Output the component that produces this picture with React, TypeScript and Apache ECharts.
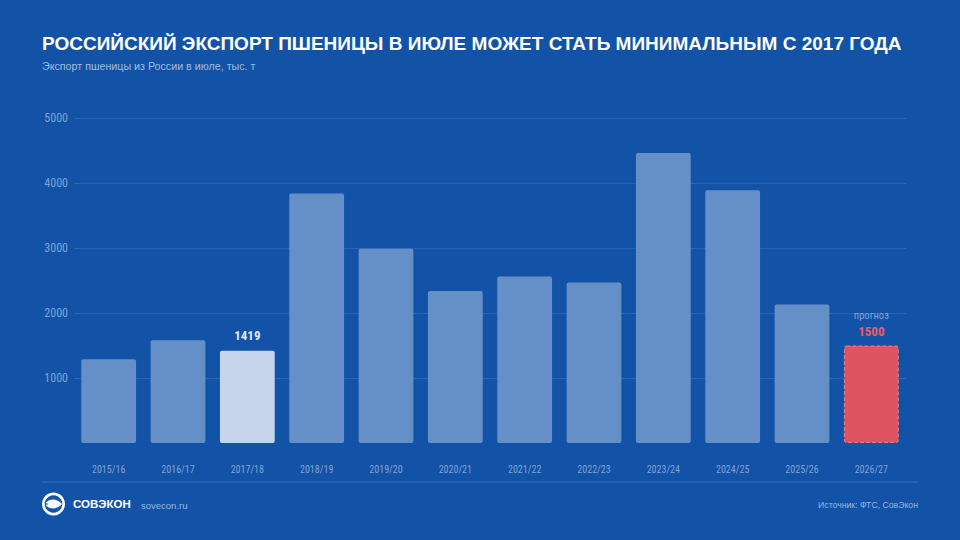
import React, { useEffect, useRef } from "react";
import * as echarts from "echarts";

const categories = ["2015/16", "2016/17", "2017/18", "2018/19", "2019/20", "2020/21", "2021/22", "2022/23", "2023/24", "2024/25", "2025/26", "2026/27"];
const values = [1290, 1580, 1419, 3840, 2990, 2340, 2560, 2470, 4460, 3890, 2130, 1500];
const highlightIndex = 2;
const forecastIndex = 11;
const forecastCaption = "прогноз";
const yMin = 0;
const yMax = 5000;
const yStep = 1000;

const titleText = "РОССИЙСКИЙ ЭКСПОРТ ПШЕНИЦЫ В ИЮЛЕ МОЖЕТ СТАТЬ МИНИМАЛЬНЫМ С 2017 ГОДА";
const subtitleText = "Экспорт пшеницы из России в июле, тыс. т";
const brandText = "СОВЭКОН";
const siteText = "sovecon.ru";
const sourceText = "Источник: ФТС, СовЭкон";

const BG = "#1353a7";
const BAR = "#6590c7";
const BAR_HL = "#c6d5ec";
const RED = "#de5560";
const LABEL = "rgba(200,215,240,0.62)";
const NARROW = "'Liberation Sans Narrow', 'Roboto Condensed', 'Arial Narrow', Roboto, sans-serif";
const SANS = "'Liberation Sans', Arial, 'DejaVu Sans', sans-serif";

let registered = false;
function registerLogo() {
  if (registered) return;
  registered = true;
  const d = "M-8,-1 C-3,-6.5 4,-5 8.5,0 C4,5 -3,6.5 -8,1 L-4.5,0 Z";
  echarts.graphic.registerShape("logo", (echarts.graphic as any).extendPath(d, {}));
}

export default function App() {
  const ref = useRef<HTMLDivElement>(null);
  useEffect(() => {
    document.body.style.margin = "0";
    document.body.style.background = BG;
    registerLogo();
    const chart = echarts.init(ref.current!, undefined, { renderer: "svg" });
    const data = values.map((v, i) => {
      if (i === forecastIndex) {
        return {
          value: v,
          itemStyle: { color: RED, borderColor: "#f07a84", borderWidth: 1, borderType: "dashed", borderRadius: 2 },
          label: {
            show: true,
            position: "top",
            distance: 6,
            formatter: "{a|" + forecastCaption + "}\n{b|{c}}",
            rich: {
              a: { fontFamily: NARROW, fontSize: 10.5, color: LABEL, lineHeight: 16 },
              b: { fontFamily: NARROW, fontSize: 13, fontWeight: "bold", color: "#f05a66", lineHeight: 16 },
            },
          },
        };
      }
      if (i === highlightIndex) {
        return {
          value: v,
          itemStyle: { color: BAR_HL, borderRadius: 2 },
          label: {
            show: true,
            position: "top",
            distance: 9,
            fontFamily: NARROW,
            fontSize: 13,
            fontWeight: "bold",
            color: "#dfe8f6",
          },
        };
      }
      return { value: v, itemStyle: { color: BAR, borderRadius: 2 } };
    });
    chart.setOption({
      animation: false,
      backgroundColor: BG,
      grid: { left: 74, right: 54, top: 118, bottom: 97 },
      xAxis: {
        type: "category",
        data: categories,
        axisLine: { show: false },
        axisTick: { show: false },
        axisLabel: { color: LABEL, fontFamily: NARROW, fontSize: 10, margin: 21 },
      },
      yAxis: {
        type: "value",
        min: yMin,
        max: yMax,
        interval: yStep,
        axisLine: { show: false },
        axisTick: { show: false },
        axisLabel: {
          color: LABEL,
          fontFamily: NARROW,
          fontSize: 12,
          margin: 6,
          formatter: (v: number) => (v === 0 ? "" : String(v)),
        },
        splitLine: { show: true, showMinLine: false, lineStyle: { color: "rgba(255,255,255,0.1)", width: 1 } },
      },
      series: [
        {
          type: "bar",
          data,
          barCategoryGap: "21%",
        },
      ],
      graphic: [
        {
          type: "text",
          left: 42,
          top: 34,
          style: { text: titleText, fill: "#ffffff", font: "bold 19px " + SANS },
        },
        {
          type: "text",
          left: 42,
          top: 60,
          style: { text: subtitleText, fill: "rgba(190,208,236,0.85)", font: "10.7px " + SANS },
        },
        {
          type: "line",
          shape: { x1: 42, y1: 482, x2: 918, y2: 482 },
          style: { stroke: "rgba(255,255,255,0.16)", lineWidth: 1 },
        },
        {
          type: "ring",
          shape: { cx: 53.5, cy: 504, r: 11.5, r0: 8.8 },
          style: { fill: "#ffffff" },
        },
        {
          type: "logo",
          x: 53.5,
          y: 504,
          scaleX: 1,
          scaleY: 1,
          style: { fill: "#ffffff" },
        },
        {
          type: "text",
          left: 73,
          top: 498,
          style: { text: brandText, fill: "#ffffff", font: "bold 11.5px " + SANS },
        },
        {
          type: "text",
          left: 141,
          top: 500,
          style: { text: siteText, fill: "rgba(190,208,236,0.8)", font: "9.5px " + SANS },
        },
        {
          type: "text",
          right: 42,
          top: 500,
          style: { text: sourceText, fill: "rgba(190,208,236,0.8)", font: "8.7px " + SANS },
        },
      ],
    } as any);
    return () => chart.dispose();
  }, []);
  return <div ref={ref} style={{ position: "fixed", left: 0, top: 0, width: 960, height: 540 }} />;
}
